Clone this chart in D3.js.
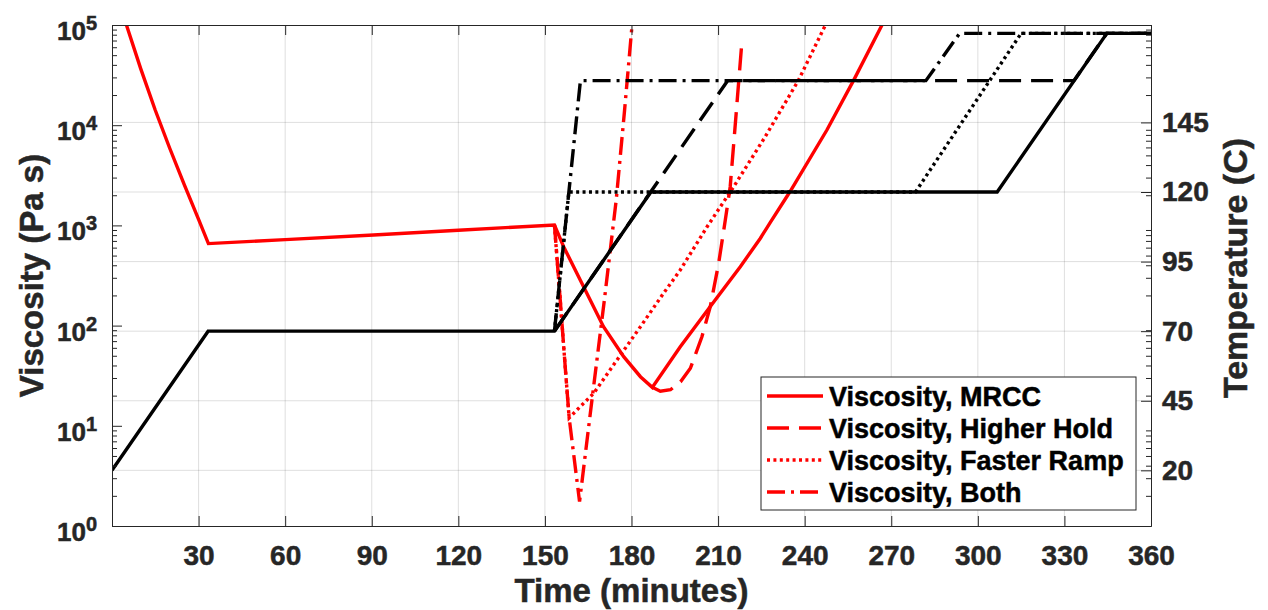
<!DOCTYPE html>
<html>
<head>
<meta charset="utf-8">
<script src="https://cdn.jsdelivr.net/npm/d3@7"></script>
<style>
  body { margin: 0; background: #fff; }
  svg text { font-family: "Liberation Sans", Arial, sans-serif; font-weight: bold; stroke-width: 0.5px; }
</style>
</head>
<body>
<div id="chart"></div>
<script>
// Viscosity curves (time in minutes, viscosity in Pa s)
const tMRCC = [0, 5, 10, 15, 20, 25, 30, 33.4, 60, 90.6, 120, 153.3, 156.5, 163.4, 170.3, 177.3, 183.1, 187.2, 196.9, 207.3, 217.7, 224.6, 228.1, 235, 247.7, 257, 266.8, 270];
const vMRCC = [2.6e5, 1e5, 36300, 14100, 5890, 2570, 1150, 658, 721, 802, 895, 1010, 612, 244, 97.5, 49, 30.9, 24.2, 61.5, 155, 387, 741, 1070, 2190, 8950, 28200, 1e5, 1.5e5];

const tHold = [187.2, 190, 193.5, 197, 200.4, 204.4, 207.3, 210.2, 212.5, 214.2, 216.3, 218.3];
const vHold = [24.2, 22.1, 22.9, 27.5, 37.5, 77.4, 155, 419, 1130, 2430, 13500, 70800];

const tRamp = [153.3, 155.3, 157, 158.4, 161.1, 166.9, 175, 183.1, 191.1, 196.9, 206.2, 215.4, 226, 237.9, 247.2, 250];
const vRamp = [1010, 182, 39.8, 12, 14.4, 21.1, 45.4, 97.5, 210, 359, 970, 2430, 7410, 28200, 1e5, 1.5e5];

const tBoth = [153.3, 155.3, 157, 158.4, 162, 166.3, 170.6, 174.7, 177.6, 180.2, 181.5];
const vBoth = [1010, 182, 39.8, 12, 1.75, 18.1, 180, 1790, 14100, 1e5, 2.5e5];

// Temperature profiles (time in minutes, temperature in C)
const tTempMRCC = [0, 33.3, 153.3, 186.7, 306.7, 344.7, 360];
const cTempMRCC = [20, 70, 70, 120, 120, 177, 177];
const tTempHold = [153.3, 213.3, 333.3, 344.7, 360];
const cTempHold = [70, 160, 160, 177, 177];
const tTempRamp = [153.3, 158.3, 278.4, 315, 360];
const cTempRamp = [70, 120, 120, 177, 177];
const tTempBoth = [153.3, 162.3, 282, 293.7, 360];
const cTempBoth = [70, 160, 160, 177, 177];

const legendNames = ["Viscosity, MRCC", "Viscosity, Higher Hold", "Viscosity, Faster Ramp", "Viscosity, Both"];
const xTicks = [30, 60, 90, 120, 150, 180, 210, 240, 270, 300, 330, 360];
const viscTicks = [1, 10, 100, 1000, 10000, 100000];
const tempTicks = [20, 45, 70, 95, 120, 145];

const width = 1268;
const height = 610;
const margin = { top: 25, right: 117, bottom: 84, left: 112 };
const axisColor = "#262626";

const svg = d3.select("#chart")
  .append("svg")
  .attr("width", width)
  .attr("height", height);

const x = d3.scaleLinear().domain([0, 360]).range([margin.left, width - margin.right]);
const yV = d3.scaleLog().domain([1, 1e5]).range([height - margin.bottom, margin.top]);
const yT = d3.scaleLinear().domain([0, 180]).range([height - margin.bottom, margin.top]);

const pLeft = margin.left, pRight = width - margin.right;
const pTop = margin.top, pBottom = height - margin.bottom;

svg.append("clipPath").attr("id", "plot-clip")
  .append("rect")
  .attr("x", pLeft).attr("y", pTop)
  .attr("width", pRight - pLeft).attr("height", pBottom - pTop);

// grid (follows the right axis, as in the original)
const grid = svg.append("g").attr("stroke", axisColor).attr("stroke-opacity", 0.15).attr("stroke-width", 1);
grid.selectAll(".vg").data(xTicks.slice(0, -1)).enter().append("line")
  .attr("x1", d => x(d)).attr("x2", d => x(d))
  .attr("y1", pTop).attr("y2", pBottom);
grid.selectAll(".hg").data(tempTicks).enter().append("line")
  .attr("x1", pLeft).attr("x2", pRight)
  .attr("y1", d => yT(d)).attr("y2", d => yT(d));

// series
const zip = (ts, vs) => ts.map((t, i) => ({ t: t, v: vs[i] }));
const viscLine = d3.line().x(d => x(d.t)).y(d => yV(d.v));
const tempLine = d3.line().x(d => x(d.t)).y(d => yT(d.v));

const dashes = ["none", "22,10", "3,3.4", "18,6,3,6"];

const viscSeries = [zip(tMRCC, vMRCC), zip(tHold, vHold), zip(tRamp, vRamp), zip(tBoth, vBoth)];
const tempSeries = [zip(tTempMRCC, cTempMRCC), zip(tTempHold, cTempHold), zip(tTempRamp, cTempRamp), zip(tTempBoth, cTempBoth)];

const plot = svg.append("g").attr("clip-path", "url(#plot-clip)");

viscSeries.forEach((s, i) => {
  plot.append("path")
    .datum(s)
    .attr("fill", "none")
    .attr("stroke", "#ff0000")
    .attr("stroke-width", 3.4)
    .attr("stroke-dasharray", dashes[i])
    .attr("d", viscLine);
});

tempSeries.forEach((s, i) => {
  plot.append("path")
    .datum(s)
    .attr("fill", "none")
    .attr("stroke", "#000")
    .attr("stroke-width", 3.4)
    .attr("stroke-dasharray", dashes[i])
    .attr("d", tempLine);
});

// axes
function styleAxis(g) {
  g.selectAll("path, line").attr("stroke", axisColor);
  g.selectAll("text").attr("fill", axisColor).attr("stroke", axisColor).style("font-size", "28px");
}

svg.append("g")
  .attr("transform", `translate(0,${pBottom})`)
  .call(d3.axisBottom(x).tickValues(xTicks).tickSizeInner(-10).tickSizeOuter(0).tickPadding(19))
  .call(styleAxis)
  .call(g => g.selectAll("text").attr("dy", "0.72em"));

svg.append("g")
  .attr("transform", `translate(0,${pTop})`)
  .call(d3.axisTop(x).tickValues(xTicks).tickSizeInner(-10).tickSizeOuter(0).tickFormat(""))
  .call(styleAxis);

const minorV = yV.ticks().filter(d => viscTicks.indexOf(d) < 0);

svg.append("g")
  .attr("transform", `translate(${pLeft},0)`)
  .call(d3.axisLeft(yV).tickValues(minorV).tickSizeInner(-5).tickSizeOuter(0).tickFormat(""))
  .call(styleAxis);

svg.append("g")
  .attr("transform", `translate(${pLeft},0)`)
  .call(d3.axisLeft(yV).tickValues(viscTicks).tickSizeInner(-10).tickSizeOuter(0).tickFormat(""))
  .call(styleAxis);

// 10^n labels
const vLabels = svg.append("g").selectAll("text").data(viscTicks).enter().append("text")
  .attr("x", pLeft - 15)
  .attr("y", d => yV(d) + 15)
  .attr("text-anchor", "end")
  .attr("fill", axisColor)
  .attr("stroke", axisColor)
  .style("font-size", "26px");
vLabels.append("tspan").text("10");
vLabels.append("tspan")
  .attr("dy", -10)
  .style("font-size", "20px")
  .text(d => Math.round(Math.log10(d)));

svg.append("g")
  .attr("transform", `translate(${pRight},0)`)
  .call(d3.axisRight(yV).tickValues(minorV).tickSizeInner(-5).tickSizeOuter(0).tickFormat(""))
  .call(styleAxis);

svg.append("g")
  .attr("transform", `translate(${pRight},0)`)
  .call(d3.axisRight(yT).tickValues(tempTicks).tickSizeInner(-10).tickSizeOuter(0).tickPadding(11))
  .call(styleAxis);

// axis labels
svg.append("text")
  .attr("x", (pLeft + pRight) / 2)
  .attr("y", 602)
  .attr("text-anchor", "middle")
  .attr("fill", axisColor)
  .attr("stroke", axisColor)
  .style("font-size", "33px")
  .text("Time (minutes)");

svg.append("text")
  .attr("transform", `translate(43,${(pTop + pBottom) / 2}) rotate(-90)`)
  .attr("text-anchor", "middle")
  .attr("fill", axisColor)
  .attr("stroke", axisColor)
  .style("font-size", "33px")
  .text("Viscosity (Pa s)");

svg.append("text")
  .attr("transform", `translate(1247,268) rotate(-90)`)
  .attr("text-anchor", "middle")
  .attr("fill", axisColor)
  .attr("stroke", axisColor)
  .style("font-size", "34px")
  .text("Temperature (C)");

// legend
const legend = svg.append("g");
legend.append("rect")
  .attr("x", 761).attr("y", 377)
  .attr("width", 375).attr("height", 133)
  .attr("fill", "#fff")
  .attr("stroke", axisColor)
  .attr("stroke-width", 1);

legendNames.forEach((name, i) => {
  const ry = 396 + i * 32;
  legend.append("line")
    .attr("x1", 767).attr("x2", 823)
    .attr("y1", ry).attr("y2", ry)
    .attr("stroke", "#ff0000")
    .attr("stroke-width", 3.4)
    .attr("stroke-dasharray", dashes[i]);
  legend.append("text")
    .attr("x", 829)
    .attr("y", ry + 9.5)
    .attr("fill", "#000")
    .attr("stroke", "#000")
    .style("font-size", "27px")
    .text(name);
});
</script>
</body>
</html>
